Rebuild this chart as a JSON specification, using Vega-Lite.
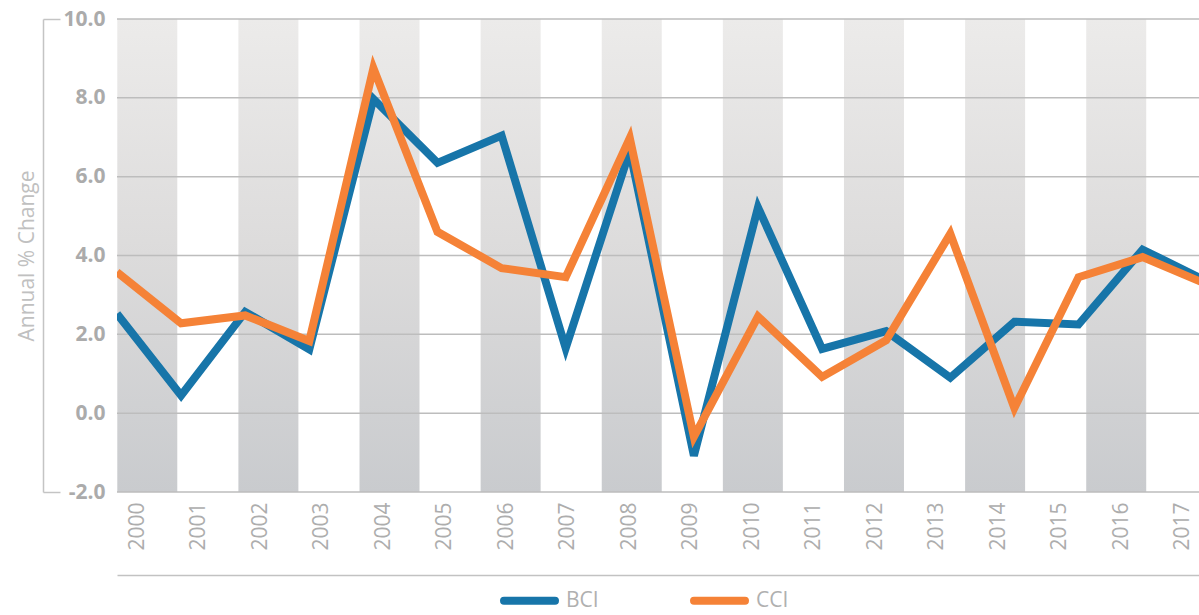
{
  "$schema": "https://vega.github.io/schema/vega-lite/v6.json",
  "width": 1082,
  "height": 473,
  "autosize": "none",
  "padding": {"left": 117, "top": 19, "right": 0, "bottom": 123},
  "background": "white",
  "config": {
    "view": {"stroke": null},
    "font": "Open Sans"
  },
  "datasets": {
    "series": [
      {"year": 2000, "index": "BCI", "change": 2.52},
      {"year": 2001, "index": "BCI", "change": 0.45},
      {"year": 2002, "index": "BCI", "change": 2.57},
      {"year": 2003, "index": "BCI", "change": 1.62},
      {"year": 2004, "index": "BCI", "change": 7.97},
      {"year": 2005, "index": "BCI", "change": 6.35},
      {"year": 2006, "index": "BCI", "change": 7.04},
      {"year": 2007, "index": "BCI", "change": 1.65},
      {"year": 2008, "index": "BCI", "change": 6.66},
      {"year": 2009, "index": "BCI", "change": -1.08},
      {"year": 2010, "index": "BCI", "change": 5.22},
      {"year": 2011, "index": "BCI", "change": 1.63},
      {"year": 2012, "index": "BCI", "change": 2.08},
      {"year": 2013, "index": "BCI", "change": 0.9},
      {"year": 2014, "index": "BCI", "change": 2.32},
      {"year": 2015, "index": "BCI", "change": 2.25},
      {"year": 2016, "index": "BCI", "change": 4.15},
      {"year": 2017, "index": "BCI", "change": 3.35},
      {"year": 2000, "index": "CCI", "change": 3.58},
      {"year": 2001, "index": "CCI", "change": 2.28},
      {"year": 2002, "index": "CCI", "change": 2.48},
      {"year": 2003, "index": "CCI", "change": 1.83},
      {"year": 2004, "index": "CCI", "change": 8.75},
      {"year": 2005, "index": "CCI", "change": 4.6},
      {"year": 2006, "index": "CCI", "change": 3.68},
      {"year": 2007, "index": "CCI", "change": 3.45},
      {"year": 2008, "index": "CCI", "change": 6.98},
      {"year": 2009, "index": "CCI", "change": -0.6},
      {"year": 2010, "index": "CCI", "change": 2.45},
      {"year": 2011, "index": "CCI", "change": 0.92},
      {"year": 2012, "index": "CCI", "change": 1.85},
      {"year": 2013, "index": "CCI", "change": 4.55},
      {"year": 2014, "index": "CCI", "change": 0.13},
      {"year": 2015, "index": "CCI", "change": 3.45},
      {"year": 2016, "index": "CCI", "change": 3.96},
      {"year": 2017, "index": "CCI", "change": 3.27}
    ],
    "bands": [
      {"year": 2000}, {"year": 2002}, {"year": 2004}, {"year": 2006}, {"year": 2008},
      {"year": 2010}, {"year": 2012}, {"year": 2014}, {"year": 2016}
    ],
    "grid": [
      {"level": -2}, {"level": 0}, {"level": 2}, {"level": 4}, {"level": 6}, {"level": 8}, {"level": 10}
    ]
  },
  "layer": [
    {
      "data": {"name": "bands"},
      "mark": {
        "type": "bar",
        "width": 60,
        "color": {
          "gradient": "linear",
          "x1": 0, "y1": 0, "x2": 0, "y2": 1,
          "stops": [
            {"offset": 0, "color": "#ecebea"},
            {"offset": 0.5, "color": "#dcdbdb"},
            {"offset": 1, "color": "#c9cbce"}
          ]
        }
      },
      "encoding": {
        "x": {
          "field": "year", "type": "quantitative",
          "scale": {"domain": [1999.5, 2017.367], "nice": false, "zero": false, "padding": 0},
          "axis": {"orient": "bottom", "offset": 83, "labels": false, "ticks": false, "grid": false, "title": null, "domain": true, "domainColor": "#c2c2c2", "domainWidth": 1.5}
        },
        "y": {"datum": 10, "type": "quantitative", "scale": {"domain": [-2, 10], "nice": false, "zero": false}, "axis": null},
        "y2": {"datum": -2}
      }
    },
    {
      "data": {"name": "grid"},
      "mark": {"type": "rule", "color": "#bdbdbd", "strokeWidth": 1.5},
      "encoding": {
        "y": {
          "field": "level", "type": "quantitative",
          "scale": {"domain": [-2, 10], "nice": false, "zero": false},
          "axis": {
            "orient": "left", "offset": 74, "values": [-2, 10], "labels": false,
            "ticks": true, "tickSize": -17, "tickColor": "#c4c4c4", "tickWidth": 1.5,
            "domain": true, "domainColor": "#c4c4c4", "domainWidth": 1.5, "grid": false,
            "title": "Annual % Change", "titleFont": "Open Sans", "titleFontSize": 21,
            "titleFontWeight": "normal", "titleColor": "#c0c0c0", "titlePadding": 5
          }
        }
      }
    },
    {
      "data": {"name": "series"},
      "mark": {"type": "line", "strokeWidth": 8, "clip": true, "strokeJoin": "miter"},
      "encoding": {
        "x": {
          "field": "year", "type": "quantitative",
          "scale": {"domain": [2000, 2016.88], "nice": false, "zero": false},
          "axis": null
        },
        "y": {
          "field": "change", "type": "quantitative",
          "scale": {"domain": [-2, 10], "nice": false, "zero": false},
          "axis": {
            "orient": "left", "values": [-2, 0, 2, 4, 6, 8, 10], "format": ".1f",
            "labelExpr": "replace(datum.label, '\u2212', '-')",
            "ticks": false, "domain": false, "grid": false, "title": null,
            "labelFont": "Open Sans", "labelFontSize": 21, "labelFontWeight": "bold",
            "labelColor": "#ababab", "labelPadding": 12
          }
        },
        "color": {
          "field": "index", "type": "nominal",
          "scale": {"domain": ["BCI", "CCI"], "range": ["#1775a9", "#f58237"]},
          "legend": {
            "title": null, "orient": "none", "direction": "horizontal",
            "legendX": 383, "legendY": 552,
            "symbolType": "stroke", "symbolSize": 2601, "symbolStrokeWidth": 8,
            "labelFont": "Open Sans", "labelFontSize": 21, "labelColor": "#b0b0b0",
            "labelOffset": 7, "columnPadding": 79,
            "encode": {"symbols": {"update": {"strokeCap": {"value": "round"}}}}
          }
        }
      }
    },
    {
      "data": {"name": "series"},
      "mark": {"type": "point", "opacity": 0},
      "encoding": {
        "x": {
          "field": "year", "type": "quantitative",
          "scale": {"domain": [1999.6667, 2017.2602], "nice": false, "zero": false},
          "axis": {
            "orient": "bottom", "values": [2000, 2001, 2002, 2003, 2004, 2005, 2006, 2007, 2008, 2009, 2010, 2011, 2012, 2013, 2014, 2015, 2016, 2017],
            "format": "d", "labelAngle": -90, "ticks": false, "domain": false, "grid": false, "title": null,
            "labelFont": "Open Sans", "labelFontSize": 21, "labelColor": "#adadad", "labelPadding": 10
          }
        }
      }
    }
  ],
  "resolve": {
    "scale": {"x": "independent"},
    "axis": {"x": "independent", "y": "independent"}
  }
}
